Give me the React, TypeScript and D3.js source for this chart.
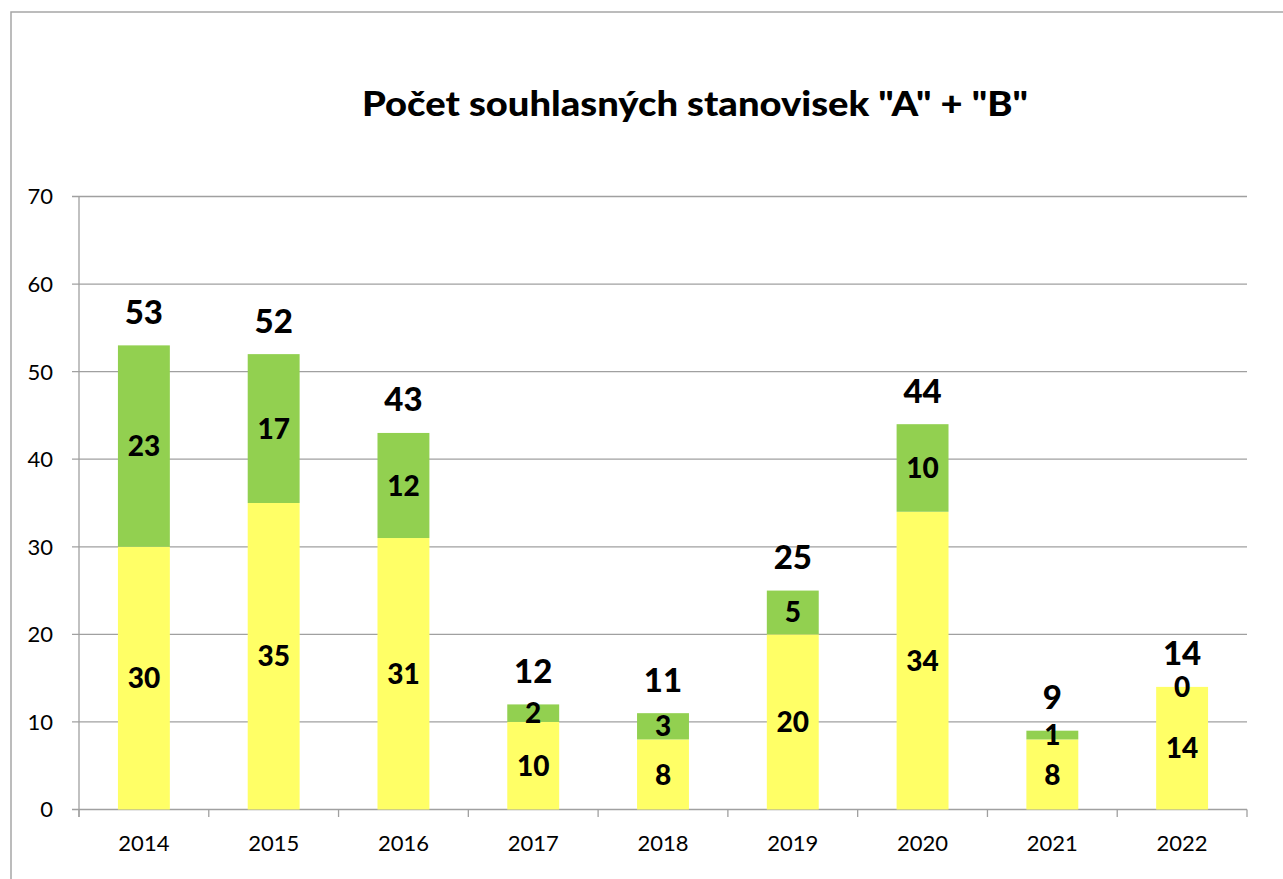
import React from "react";
import * as d3 from "d3";

const years = ["2014", "2015", "2016", "2017", "2018", "2019", "2020", "2021", "2022"];
const seriesA = [30, 35, 31, 10, 8, 20, 34, 8, 14];
const seriesB = [23, 17, 12, 2, 3, 5, 10, 1, 0];
const totals = [53, 52, 43, 12, 11, 25, 44, 9, 14];
const yTicks = [0, 10, 20, 30, 40, 50, 60, 70];
const title = 'Počet souhlasných stanovisek "A" + "B"';

const W = 1283;
const H = 879;
const FONT = "Lato, 'Open Sans', sans-serif";
const CAP = 0.7165;

export default function App() {
  const x = d3.scaleBand<string>().domain(years).range([79, 1247]).paddingInner(0.6).paddingOuter(0.3);
  const y = d3.scaleLinear().domain([0, 70]).range([809.5, 196.5]);
  const step = x.step();
  const bw = x.bandwidth();
  const segFont = 28;
  const totFont = 33;
  const axFont = 22;
  return (
    <svg width={W} height={H} style={{ position: "absolute", left: 0, top: 0, background: "#fff" }}>
      <rect x={11} y={12} width={W + 10} height={H + 10} fill="#fff" stroke="#a6a6a6" strokeWidth={1.5} />
      <text x={695} y={116} textAnchor="middle" fontFamily={FONT} fontWeight={900} fontSize={35} fill="#000" textLength={666} lengthAdjust="spacingAndGlyphs">
        {title}
      </text>
      {yTicks.map((t) => (
        <g key={t}>
          <line x1={72} x2={1247} y1={y(t)} y2={y(t)} stroke="#a0a0a0" strokeWidth={1.3} />
          <text x={53} y={y(t) + (axFont * CAP) / 2} textAnchor="end" fontFamily={FONT} fontSize={axFont} fill="#000">
            {t}
          </text>
        </g>
      ))}
      <line x1={79} x2={79} y1={196.5} y2={817} stroke="#a0a0a0" strokeWidth={1.3} />
      {d3.range(years.length + 1).map((i) => (
        <line key={i} x1={79 + i * step} x2={79 + i * step} y1={809.5} y2={817} stroke="#a0a0a0" strokeWidth={1.3} />
      ))}
      {years.map((yr, i) => {
        const x0 = x(yr)!;
        const cx = x0 + bw / 2;
        const a = seriesA[i];
        const b = seriesB[i];
        const yA = y(a);
        const yB = y(a + b);
        return (
          <g key={yr}>
            <rect x={x0} y={yA} width={bw} height={y(0) - yA} fill="#FFFF66" />
            <rect x={x0} y={yB} width={bw} height={yA - yB} fill="#92D050" />
            <text x={cx} y={(y(0) + yA) / 2 + (segFont * CAP) / 2} textAnchor="middle" fontFamily={FONT} fontWeight={900} fontSize={segFont} fill="#000">
              {a}
            </text>
            <text x={cx} y={(yA + yB) / 2 + (segFont * CAP) / 2} textAnchor="middle" fontFamily={FONT} fontWeight={900} fontSize={segFont} fill="#000">
              {b}
            </text>
            <text x={cx} y={y(totals[i]) - 21.5} textAnchor="middle" fontFamily={FONT} fontWeight={900} fontSize={totFont} fill="#000">
              {totals[i]}
            </text>
            <text x={cx} y={843 + (axFont * CAP) / 2} textAnchor="middle" fontFamily={FONT} fontSize={axFont} fill="#000">
              {yr}
            </text>
          </g>
        );
      })}
    </svg>
  );
}
